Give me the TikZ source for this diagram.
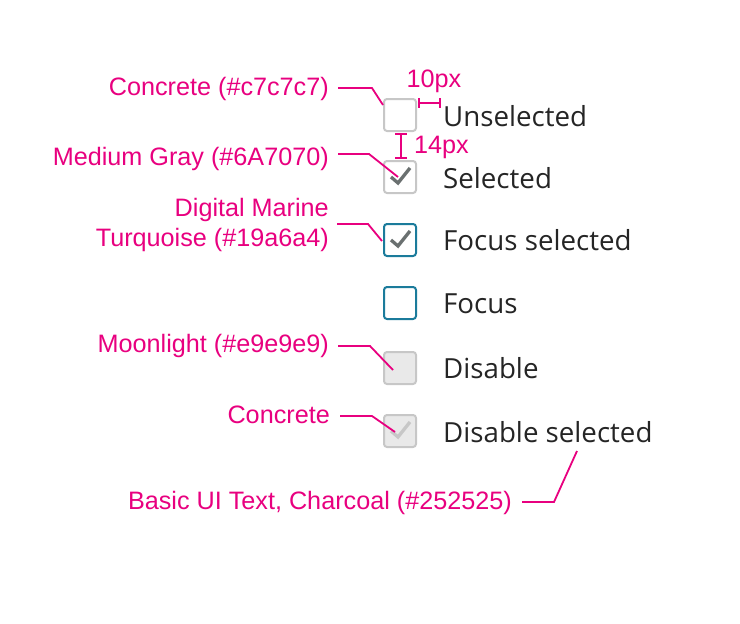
\documentclass[tikz,border=0pt]{standalone}
\usepackage{fontspec}
\setmainfont{Open Sans}
\newfontfamily\labfont{Liberation Sans}
\definecolor{pinkc}{HTML}{E8007F}
\definecolor{concrete}{HTML}{C7C7C7}
\definecolor{medgray}{HTML}{6A7070}
\definecolor{marine}{HTML}{1B7B9B}
\definecolor{moon}{HTML}{E9E9E9}
\definecolor{charcoal}{HTML}{252525}
\begin{document}
\begin{tikzpicture}[x=1pt,y=-1pt,
  cbox/.style={draw=concrete,line width=2pt,fill=white,rounded corners=3pt,minimum size=32pt,inner sep=0pt},
  fbox/.style={cbox,draw=marine},
  dbox/.style={cbox,fill=moon},
  state/.style={anchor=west,font=\fontsize{27.7}{32}\selectfont,text=charcoal,inner sep=0pt},
  labf/.style={font=\labfont\fontsize{25.2}{30}\selectfont,text=pinkc,inner sep=0pt},
  lab/.style={labf,anchor=east,align=right},
  lead/.style={draw=pinkc,line width=1.8pt},
  chk/.style={line width=3.3pt,line cap=butt,line join=miter}
]
\useasboundingbox (0,0) rectangle (740,624);
% boxes
\node[cbox] (b1) at (400,115) {};
\node[cbox] (b2) at (400,177) {};
\node[fbox] (b3) at (400,240) {};
\node[fbox] (b4) at (400,303) {};
\node[dbox] (b5) at (400,368) {};
\node[dbox] (b6) at (400,431) {};
% checks
\draw[chk,medgray] ([shift={(-9,0)}]b2.center) -- ([shift={(-2,6)}]b2.center) -- ([shift={(10,-9)}]b2.center);
\draw[chk,medgray] ([shift={(-9,0)}]b3.center) -- ([shift={(-2,6)}]b3.center) -- ([shift={(10,-9)}]b3.center);
\draw[chk,concrete] ([shift={(-9,0)}]b6.center) -- ([shift={(-2,6)}]b6.center) -- ([shift={(10,-9)}]b6.center);
% state texts
\node[state] (t1) at (443,116) {Unselected};
\node[state] (t2) at (443,178) {Selected};
\node[state] (t3) at (443,240) {Focus selected};
\node[state] (t4) at (443,304) {Focus};
\node[state] (t5) at (443,368) {Disable};
\node[state] (t6) at (443,432) {Disable selected};
% labels
\node[lab] (l1) at (329,89) {Concrete (\#c7c7c7)};
\node[lab] (l2) at (329,159) {Medium Gray (\#6A7070)};
\node[lab] (l3) at (329,225) {Digital Marine\\Turquoise (\#19a6a4)};
\node[lab] (l5) at (329,346) {Moonlight (\#e9e9e9)};
\node[lab] (l6) at (330,415) {Concrete};
\node[lab] (l7) at (512,503) {Basic UI Text, Charcoal (\#252525)};
% leaders
\coordinate (e1) at (383,105);
\coordinate (e2) at (398,177);
\coordinate (e3) at (382,241);
\coordinate (e5) at (393,370);
\coordinate (e6) at (395,432);
\coordinate (e7) at (577,451);
\draw[lead] (338,88) -- (372,88) -- (e1);
\draw[lead] (338,154) -- (369,154) -- (e2);
\draw[lead] (337,224) -- (368,224) -- (e3);
\draw[lead] (338,346) -- (370,346) -- (e5);
\draw[lead] (340,416) -- (372,416) -- (e6);
\draw[lead] (522,502) -- (554,502) -- (e7);
% dimensions
\coordinate (d1a) at (419,103);
\coordinate (d1b) at (440,103);
\draw[lead] (d1a) -- (d1b);
\draw[lead] (419,98) -- (419,108);
\draw[lead] (440,98) -- (440,108);
\node[labf] (dim1) at (434,81) {10px};
\coordinate (d2a) at (401,134);
\coordinate (d2b) at (401,158);
\draw[lead] (d2a) -- (d2b);
\draw[lead] (395,134) -- (407,134);
\draw[lead] (395,158) -- (407,158);
\node[labf,anchor=west] (dim2) at (414,147) {14px};
\end{tikzpicture}
\end{document}
